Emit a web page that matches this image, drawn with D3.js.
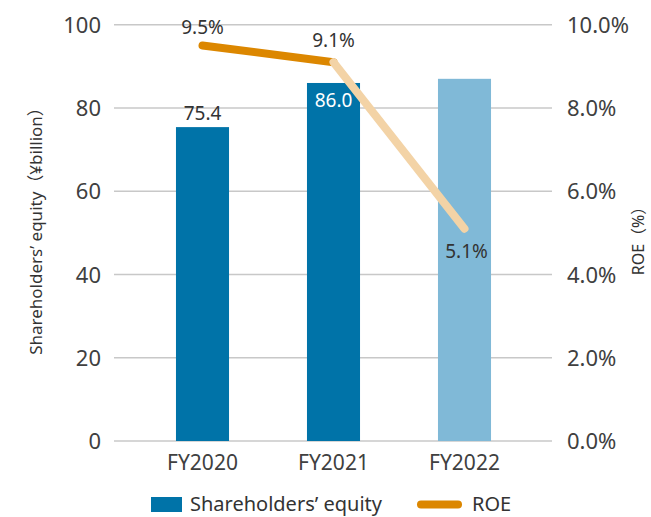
<!DOCTYPE html>
<html><head><meta charset="utf-8">
<script src="https://cdn.jsdelivr.net/npm/d3@7"></script>
<style>
body{margin:0;background:#fff;}
text{font-family:"Noto Sans","Noto Sans CJK JP",sans-serif;}
</style></head>
<body><svg id="c" width="651" height="517"></svg>
<script>
const categories = ["FY2020","FY2021","FY2022"];
const equity = [75.4, 86.0, 87.0];
const equityLabels = ["75.4","86.0",""];
const roe = [9.5, 9.1, 5.1];
const roeLabels = ["9.5%","9.1%","5.1%"];
const leftTicks = [0,20,40,60,80,100];
const rightTicks = [0,2,4,6,8,10];

const svg = d3.select("#c");
const x = d3.scaleBand().domain(categories).range([137,530]).paddingInner(0.595).paddingOuter(0.2975);
const y = d3.scaleLinear().domain([0,100]).range([441,24.7]);
const y2 = d3.scaleLinear().domain([0,10]).range([441,24.7]);
const tickColor = "#404040";

// gridlines
svg.append("g").selectAll("line").data(leftTicks).join("line")
  .attr("x1",114).attr("x2",552).attr("y1",d=>y(d)).attr("y2",d=>y(d))
  .attr("stroke","#c8c8c8").attr("stroke-width",1.5);

// left axis
const la = svg.append("g").attr("transform","translate(101,0)")
  .call(d3.axisLeft(y).tickValues(leftTicks).tickSize(0).tickPadding(0));
la.select(".domain").remove();
la.selectAll("text").attr("font-size",22).attr("fill",tickColor).attr("font-family","Noto Sans").attr("dy","0.35em");

// right axis
const ra = svg.append("g").attr("transform","translate(567,0)")
  .call(d3.axisRight(y2).tickValues(rightTicks).tickSize(0).tickPadding(0).tickFormat(d=>d3.format(".1f")(d)+"%"));
ra.select(".domain").remove();
ra.selectAll("text").attr("font-size",22).attr("fill",tickColor).attr("font-family","Noto Sans").attr("dy","0.35em");

// x axis labels
const xa = svg.append("g").attr("transform","translate(0,455)")
  .call(d3.axisBottom(x).tickSize(0).tickPadding(0));
xa.select(".domain").remove();
xa.selectAll("text").attr("font-size",21).attr("fill",tickColor).attr("font-family","Noto Sans").attr("dy","0.71em");

// bars
const barColors = ["#0073a8","#0073a8","#80b9d7"];
svg.append("g").selectAll("rect").data(equity).join("rect")
  .attr("x",(d,i)=>x(categories[i])).attr("width",x.bandwidth())
  .attr("y",d=>y(d)).attr("height",d=>y(0)-y(d))
  .attr("fill",(d,i)=>barColors[i]);

// bar labels
svg.append("text").attr("x",x(categories[0])+x.bandwidth()/2).attr("y",y(equity[0])-7)
  .attr("text-anchor","middle").attr("font-size",19).attr("fill","#333").text(equityLabels[0]);
svg.append("text").attr("x",x(categories[1])+x.bandwidth()/2).attr("y",y(equity[1])+24)
  .attr("text-anchor","middle").attr("font-size",19).attr("fill","#ffffff").text(equityLabels[1]);

// ROE line segments
const cx = i => x(categories[i])+x.bandwidth()/2;
const segColors = ["#dc8700","#f3d3a6"];
for (let i=0;i<roe.length-1;i++){
  svg.append("line").attr("x1",cx(i)).attr("y1",y2(roe[i])).attr("x2",cx(i+1)).attr("y2",y2(roe[i+1]))
    .attr("stroke",segColors[i]).attr("stroke-width",8).attr("stroke-linecap","round");
}
// ROE labels
const roeOff = [[0,-12],[0,-15],[2,29]];
roe.forEach((d,i)=>{
  svg.append("text").attr("x",cx(i)+roeOff[i][0]).attr("y",y2(d)+roeOff[i][1])
    .attr("text-anchor","middle").attr("font-size",19).attr("fill","#333").text(roeLabels[i]);
});

// axis titles
svg.append("text").attr("transform","translate(42,227) rotate(-90)").attr("text-anchor","middle")
  .attr("font-size",17).attr("fill","#333").text("Shareholders’ equity（¥billion）");
svg.append("text").attr("transform","translate(644,237) rotate(-90)").attr("text-anchor","middle")
  .attr("font-size",16).attr("fill","#333").text("ROE（%）");

// legend
svg.append("rect").attr("x",151).attr("y",497).attr("width",31).attr("height",15).attr("fill","#0073a8");
svg.append("text").attr("x",190).attr("y",511).attr("font-size",20).attr("fill","#333").text("Shareholders’ equity");
svg.append("line").attr("x1",421).attr("x2",458).attr("y1",504.5).attr("y2",504.5)
  .attr("stroke","#dc8700").attr("stroke-width",8).attr("stroke-linecap","round");
svg.append("text").attr("x",472).attr("y",511).attr("font-size",20).attr("fill","#333").text("ROE");
</script></body></html>
